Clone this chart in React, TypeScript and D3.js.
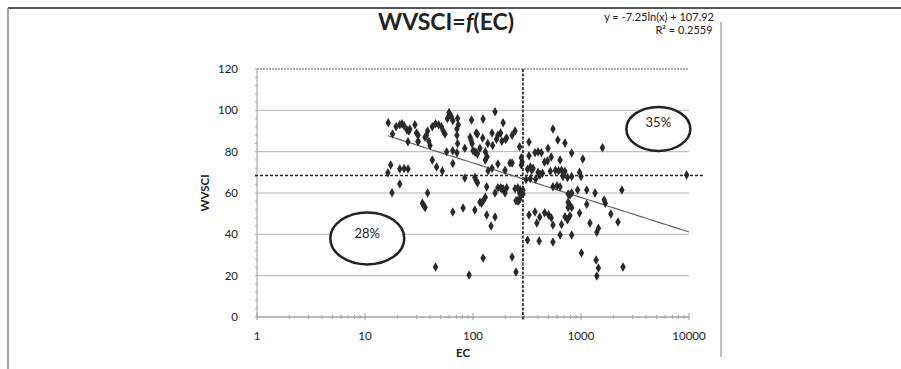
import React from "react";
import * as d3 from "d3";

const ecValues = [
  16.4, 19.4, 21, 22, 23, 24.5, 25.5, 26, 29, 30, 18, 25, 31, 17.3, 21, 23, 25, 16.3, 21, 17.8,
  58, 61, 63, 65, 60, 160, 97, 124, 190, 72, 73, 71, 42, 45, 48, 51, 53, 55, 38, 37, 36, 31, 31, 39, 40,
  71, 72, 107, 110, 94, 96, 98, 123, 137, 152, 150, 170, 165, 185, 205, 57, 65, 71, 84, 100, 104, 107, 110,
  116, 130, 135, 130, 42, 46, 52, 65, 138, 150, 170, 198, 220, 84, 104, 107, 110, 134, 170, 185, 205, 38,
  160, 198, 130, 125, 120, 116, 34, 35, 36, 65, 81, 104, 134, 160, 147, 124, 45, 92,
  180, 200, 230, 245, 550, 610, 710, 330, 270, 495, 820, 375, 400, 430, 330, 530, 280, 285, 280, 460, 490,
  640, 1040, 230, 320, 340, 350, 360, 400, 420, 440, 410, 520, 580, 620, 660, 710, 680, 750, 820, 970, 1000,
  310, 340, 380, 180, 190, 245, 260, 275, 290, 550, 600, 640, 760, 790, 820, 930, 1130, 1350, 270, 280, 290,
  250, 258, 265, 270, 760, 790, 820, 760, 1130, 330, 375, 415, 460, 500, 530, 390, 550, 660, 710, 750, 790,
  970, 1210, 640, 820, 320, 410, 550, 1010, 1450, 230, 250,
  1580, 9500, 2390, 1640, 1680, 1890, 2200, 1400, 1380, 1450, 2450, 1400,
];

const wvsciValues = [
  94, 92, 93, 93.5, 92.5, 90.5, 90, 91, 93, 89, 88.5, 84.8, 84.8, 73.5, 71.6, 71.8, 71.6, 69.8, 64.3, 60.1,
  96, 98, 97, 95, 99, 99.3, 95.3, 95.8, 94, 96, 93, 91, 92, 93.5, 93, 92, 90, 88.5, 90, 88, 87, 88, 85, 85, 83,
  88, 84, 89, 88.5, 87, 85.5, 84, 86.6, 84, 83, 89, 88, 86, 85, 86.6, 80, 80.5, 79.5, 81.6, 80.5, 80, 79.5, 79,
  81.6, 80, 77.5, 76, 76, 72.6, 70.7, 74.3, 70.8, 72, 74, 71, 74.5, 67.2, 67.5, 66, 65, 63, 62.5, 62, 62.5, 60,
  60, 60, 58, 56.5, 55, 55.5, 55, 54, 53, 50.8, 52.7, 51.8, 49.3, 48.4, 44, 28.5, 24.2, 20.3,
  89, 86, 88, 90, 91, 85.6, 84.2, 84.7, 82.4, 81.6, 79.3, 79.5, 80, 79.5, 78, 77.4, 77, 75, 73.5, 75, 75.5,
  76, 76.4, 74.5, 71.5, 72.6, 71, 72, 70, 69, 69.5, 68.7, 70.5, 71, 70.8, 71, 70.5, 68, 67.5, 68, 70, 68,
  66.5, 67, 66.8, 62.5, 62, 62, 62.5, 61.5, 61.5, 63, 63.5, 63, 59.5, 59, 60, 61.4, 61.4, 60, 60, 59, 59.5,
  56.3, 56.3, 56.3, 56.8, 55.5, 54, 53, 53, 54.6, 49.3, 50.8, 48.4, 50.5, 49.5, 48, 45.5, 44.5, 44.8, 48.5, 47, 49,
  50.3, 45.5, 39.7, 39.7, 37.2, 36.8, 36.3, 31, 43, 29, 21.8,
  81.9, 68.7, 61.4, 56.6, 55, 49.8, 46, 41, 27.6, 23.7, 24.2, 19.8,
];

const xTicks = [1, 10, 100, 1000, 10000];
const yTicks = [0, 20, 40, 60, 80, 100, 120];
const trendA = -7.25;
const trendB = 107.92;
const ecThreshold = 290;
const wvsciThreshold = 68.5;
const quadrantLabels = [
  { label: "28%", ec: 10.5, w: 38 },
  { label: "35%", ec: 5200, w: 91 },
];

export default function App() {
  const W = 901;
  const H = 369;
  const left = 257;
  const right = 689;
  const top = 69;
  const bottom = 317;
  const x = d3.scaleLog().domain([1, 10000]).range([left, right]);
  const y = d3.scaleLinear().domain([0, 120]).range([bottom, top]);
  const font = "Lato, 'Open Sans', sans-serif";

  const points = ecValues.map((e, i) => ({ e, w: wvsciValues[i] }));
  const minEc = d3.min(ecValues) as number;
  const trendXs = d3.range(0, 101).map((i) => Math.exp(Math.log(minEc) + (Math.log(10000) - Math.log(minEc)) * i / 100));
  const trendLine = d3
    .line<number>()
    .x((v) => x(v))
    .y((v) => y(trendA * Math.log(v) + trendB))(trendXs);

  const minorX: number[] = [];
  for (let d = 1; d < 10000; d *= 10) for (let k = 2; k <= 9; k++) minorX.push(d * k);
  const minorY = d3.range(0, 121, 4);

  const diamond = d3.symbol().type(d3.symbolDiamond).size(26)();

  return (
    <svg width={W} height={H} style={{ position: "absolute", left: 0, top: 0, background: "#fff" }}>
      <rect x={0} y={0} width={W} height={H} fill="#fff" />
      {/* frame */}
      <line x1={8} x2={901} y1={8} y2={8} stroke="#555" strokeWidth={2} />
      <line x1={8} x2={8} y1={8} y2={369} stroke="#888" strokeWidth={1.5} />
      <line x1={721} x2={721} y1={22} y2={357} stroke="#aaa" strokeWidth={1.5} />

      {/* gridlines */}
      {yTicks.map((t) => (
        <line
          key={"g" + t}
          x1={left}
          x2={right}
          y1={y(t)}
          y2={y(t)}
          stroke={t === 120 ? "#666" : "#b5b5b5"}
          strokeWidth={1}
          strokeDasharray={t === 120 ? "2,1" : undefined}
        />
      ))}
      {/* axes */}
      <line x1={left} x2={left} y1={top} y2={bottom} stroke="#999" />
      {minorY.map((t) => (
        <line key={"my" + t} x1={left - 2} x2={left} y1={y(t)} y2={y(t)} stroke="#aaa" />
      ))}
      <line x1={left} x2={right} y1={bottom} y2={bottom} stroke="#999" />
      {minorX.map((t) => (
        <line key={"mx" + t} x1={x(t)} x2={x(t)} y1={bottom - 2} y2={bottom + 2} stroke="#aaa" />
      ))}
      {xTicks.map((t) => (
        <line key={"tx" + t} x1={x(t)} x2={x(t)} y1={bottom - 4} y2={bottom + 3} stroke="#999" />
      ))}

      {/* threshold dashed lines */}
      <line x1={255} x2={703} y1={y(wvsciThreshold)} y2={y(wvsciThreshold)} stroke="#222" strokeWidth={1.4} strokeDasharray="3,2" />
      <line x1={x(ecThreshold)} x2={x(ecThreshold)} y1={top} y2={bottom + 3} stroke="#111" strokeWidth={1.5} strokeDasharray="3,1.5" />

      {/* trend */}
      <path d={trendLine || ""} fill="none" stroke="#666" strokeWidth={1.2} />

      {/* points */}
      {points.map((p, i) => (
        <path key={i} d={diamond || ""} transform={`translate(${x(p.e)},${y(p.w)})`} fill="#2a2a2a" />
      ))}

      {/* ellipses */}
      {quadrantLabels.map((q, i) => (
        <g key={q.label}>
          <ellipse
            cx={x(q.ec)}
            cy={y(q.w)}
            rx={i === 0 ? 37 : 32}
            ry={i === 0 ? 26 : 22}
            fill="#fff"
            stroke="#222"
            strokeWidth={2.5}
          />
          <text x={x(q.ec)} y={y(q.w) + (i === 0 ? 0 : -2)} textAnchor="middle" fontFamily={font} fontSize={13} fill="#222">
            {q.label}
          </text>
        </g>
      ))}

      {/* tick labels */}
      {yTicks.map((t) => (
        <text key={"yl" + t} x={left - 19} y={y(t) + 4} textAnchor="end" fontFamily={font} fontSize={11.5} fill="#222">
          {t}
        </text>
      ))}
      {xTicks.map((t) => (
        <text key={"xl" + t} x={x(t)} y={340} textAnchor="middle" fontFamily={font} fontSize={11.5} fill="#222">
          {t}
        </text>
      ))}

      {/* titles */}
      <text x={446} y={30} textAnchor="middle" fontFamily={font} fontWeight="bold" fontSize={23} fill="#222">
        WVSCI=<tspan fontStyle="italic">f</tspan>(EC)
      </text>
      <text x={714} y={21} textAnchor="end" fontFamily={font} fontSize={11} fill="#222">
        y = -7.25ln(x) + 107.92
      </text>
      <text x={684} y={34} textAnchor="middle" fontFamily={font} fontSize={11} fill="#222">
        R² = 0.2559
      </text>
      <text x={463} y={357} textAnchor="middle" fontFamily={font} fontWeight="bold" fontSize={11.5} fill="#222">
        EC
      </text>
      <text
        transform="translate(209,193) rotate(-90)"
        textAnchor="middle"
        fontFamily={font}
        fontWeight="bold"
        fontSize={11.5}
        fill="#222"
      >
        WVSCI
      </text>
    </svg>
  );
}
